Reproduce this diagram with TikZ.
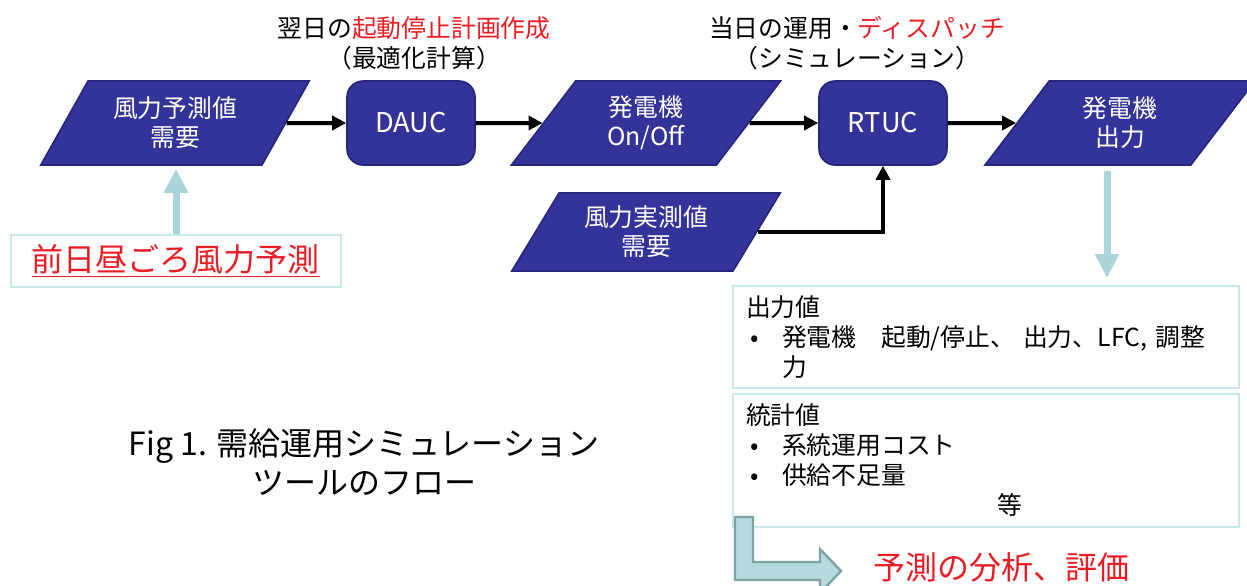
\documentclass[tikz,border=0pt]{standalone}
\usepackage{fontspec}
\setmainfont{Noto Sans CJK JP}
\usetikzlibrary{shapes.geometric,arrows.meta}
\definecolor{boxblue}{RGB}{51,51,153}
\definecolor{boxedge}{RGB}{38,38,125}
\definecolor{lightcyan}{RGB}{170,214,219}
\definecolor{frameline}{RGB}{202,233,235}
\definecolor{bentfill}{RGB}{180,218,222}
\definecolor{bentedge}{RGB}{125,163,167}
\definecolor{jpred}{RGB}{236,28,36}
\newcommand{\itemmark}{\makebox[18pt][l]{\hspace{2pt}•}}
\begin{document}
\begin{tikzpicture}[x=0.5pt, y=-0.5pt,
	every node/.style={font=\fontsize{12.4pt}{15pt}\selectfont},
	datanode/.style={trapezium, trapezium left angle=57, trapezium right angle=123, trapezium stretches=true,
		fill=boxblue, draw=boxedge, line width=0.8pt, text=white, align=center,
		minimum width=135pt, minimum height=42pt, inner sep=0pt, font=\fontsize{12.4pt}{14.5pt}\selectfont},
	procnode/.style={rectangle, rounded corners=8pt, fill=boxblue, draw=boxedge, line width=0.8pt,
		text=white, minimum width=64pt, minimum height=42pt, font=\fontsize{13.6pt}{15pt}\selectfont},
	blackarrow/.style={-{Triangle[length=7pt,width=7pt]}, line width=2pt},
	lightarrow/.style={-{Triangle[length=12pt,width=11.5pt]}, line width=3.5pt, draw=lightcyan},
	framebox/.style={draw=frameline, line width=1pt, anchor=north west, align=left,
		inner xsep=6.5pt, inner ysep=2pt, text width=240pt},
	bigtext/.style={font=\fontsize{16pt}{19.5pt}\selectfont}]
	\useasboundingbox (0,0) rectangle (1247,585);
	% Flow row
	\node[datanode] (wind) at (175,123) {風力予測値\\需要};
	\node[procnode] (dauc) at (411,123) {DAUC};
	\node[datanode] (onoff) at (646,123) {発電機\\On/Off};
	\node[procnode] (rtuc) at (883,123) {RTUC};
	\node[datanode] (output) at (1120,123) {発電機\\出力};
	\node[datanode, minimum height=39pt] (actual) at (646,232) {風力実測値\\需要};
	% Headings
	\node[align=center] (dayahead) at (414,43) {翌日の\textcolor{jpred}{起動停止計画作成}\\（最適化計算）};
	\node[align=center] (sameday) at (857,43) {当日の運用・\textcolor{jpred}{ディスパッチ}\\（シミュレーション）};
	% Forecast input
	\node[draw=frameline, line width=1pt, minimum width=165pt, minimum height=26pt, text=jpred, bigtext] (forecast) at (176,261) {\underline{前日昼ごろ風力予測}};
	% Result boxes
	\node[framebox, minimum height=51pt] (result) at (732,285) {出力値\\
		\itemmark 発電機　起動/停止、 出力、LFC, 調整\\
		\hspace*{18pt}力};
	\node[framebox, minimum height=66.5pt] (stats) at (732,393) {統計値\\
		\itemmark 系統運用コスト\\
		\itemmark 供給不足量\\
		\hspace*{125.5pt}等};
	% Caption
	\node[align=center, bigtext] (caption) at (364,462) {Fig 1. 需給運用シミュレーション\\ツールのフロー};
	\node[anchor=west, text=jpred, bigtext] (analysis) at (866,567) {予測の分析、評価};
	% Connectors
	\draw[blackarrow] (wind.east) -- (dauc.west);
	\draw[blackarrow] (dauc.east) -- (onoff.west);
	\draw[blackarrow] (onoff.east) -- (rtuc.west);
	\draw[blackarrow] (rtuc.east) -- (output.west);
	\draw[blackarrow] (actual.east) -| (rtuc.south);
	\draw[lightarrow, shorten >=1.5pt] (forecast.north) -- (forecast.north |- wind.south);
	\coordinate (drop) at ([xshift=-6.5pt]output.center);
	\draw[lightarrow, shorten <=2.5pt, shorten >=3.5pt] (drop |- output.south) -- (drop |- result.north);
	% Bent arrow to analysis
	\draw[fill=bentfill, draw=bentedge, line width=1.2pt] (735,517) -- (753,517) -- (753,562) -- (820,562)
		-- (820,549) -- (841,571) -- (820,593) -- (820,580) -- (735,580) -- cycle;
\end{tikzpicture}
\end{document}
